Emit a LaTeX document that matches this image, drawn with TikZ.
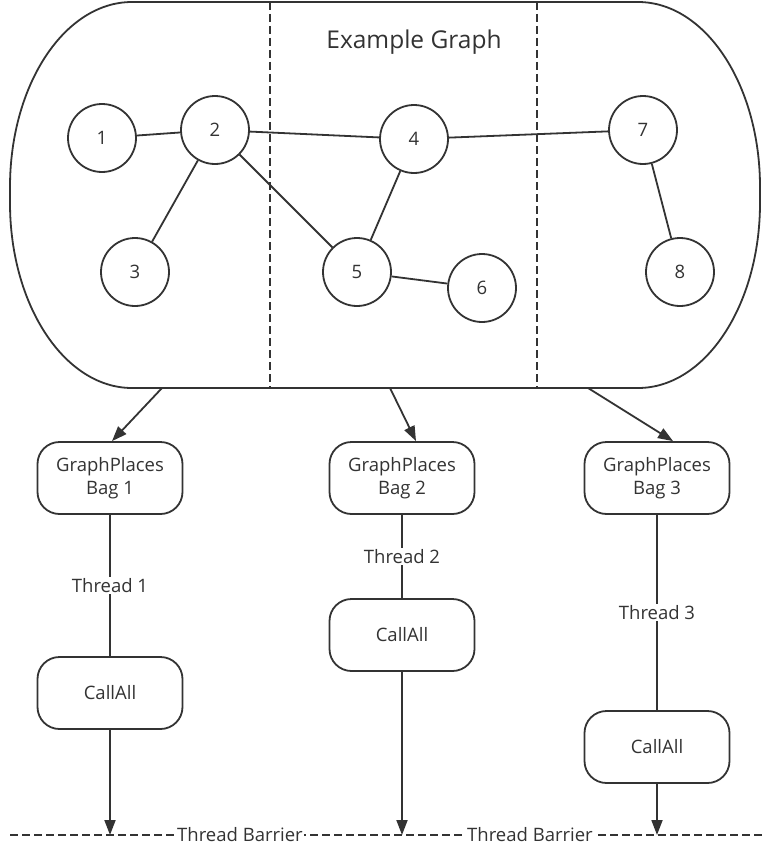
\documentclass[tikz,border=0pt]{standalone}
\usepackage{fontspec}
\setmainfont{Open Sans}
\usetikzlibrary{arrows.meta,calc}
\definecolor{ink}{HTML}{333333}
\begin{document}
\begin{tikzpicture}[x=1pt,y=-1pt,
  every node/.style={text=ink,font=\fontsize{18.5}{23}\selectfont},
  lw/.style={draw=ink,line width=1.8pt},
  vtx/.style={lw,circle,minimum size=68pt,inner sep=0pt},
  box/.style={lw,rectangle,rounded corners=22pt,minimum width=145pt,minimum height=72pt,align=center,inner sep=0pt},
  edge/.style={lw},
  arr/.style={lw,-{Triangle[length=15pt,width=11pt]}},
  dsh/.style={draw=ink,line width=1.5pt,dash pattern=on 8pt off 4pt},
  lbl/.style={fill=white,inner sep=1pt}]
\useasboundingbox (0,0) rectangle (762,851);
\fill[white] (0,0) rectangle (762,851);
% graph container
\draw[lw] (132,2) -- (638,2) arc[start angle=90,end angle=0,x radius=122pt,y radius=185pt]
  -- (760,203) arc[start angle=0,end angle=-90,x radius=122pt,y radius=185pt]
  -- (132,388) arc[start angle=270,end angle=180,x radius=122pt,y radius=185pt]
  -- (10,187) arc[start angle=180,end angle=90,x radius=122pt,y radius=185pt] -- cycle;
\coordinate (d1t) at (270,2); \coordinate (d1b) at (270,388);
\coordinate (d2t) at (537,2); \coordinate (d2b) at (537,388);
\draw[dsh] (d1t) -- (d1b);
\draw[dsh] (d2t) -- (d2b);
\node[font=\fontsize{24.5}{29}\selectfont] (title) at (414,42) {Example Graph};
% vertices
\node[vtx] (n1) at (102,138) {1};
\node[vtx] (n2) at (215,130) {2};
\node[vtx] (n3) at (135,272) {3};
\node[vtx] (n4) at (414,139) {4};
\node[vtx] (n5) at (357,272) {5};
\node[vtx] (n6) at (482,288) {6};
\node[vtx] (n7) at (643,130) {7};
\node[vtx] (n8) at (680,272) {8};
\draw[edge] (n1) -- (n2);
\draw[edge] (n2) -- (n4);
\draw[edge] (n2) -- (n3);
\draw[edge] (n2) -- (n5);
\draw[edge] (n4) -- (n5);
\draw[edge] (n5) -- (n6);
\draw[edge] (n4) -- (n7);
\draw[edge] (n7) -- (n8);
% bags
\node[box] (bag1) at (110,478) {GraphPlaces\\Bag 1};
\node[box] (bag2) at (402,478) {GraphPlaces\\Bag 2};
\node[box] (bag3) at (657,478) {GraphPlaces\\Bag 3};
\coordinate (g1) at (162,388);
\coordinate (g2) at (390,388);
\coordinate (g3) at (588,388);
\draw[arr] (g1) -- ([xshift=2pt]bag1.north);
\draw[arr] (g2) -- ([xshift=14pt]bag2.north);
\draw[arr] (g3) -- ([xshift=16pt]bag3.north);
% callall
\node[box] (c1) at (110,693) {CallAll};
\node[box] (c2) at (402,635) {CallAll};
\node[box] (c3) at (657,747) {CallAll};
\draw[edge] (bag1) -- node[lbl] {Thread 1} (c1);
\draw[edge] (bag2) -- node[lbl] {Thread 2} (c2);
\draw[edge] (bag3) -- node[lbl] {Thread 3} (c3);
% barrier
\coordinate (bl) at (10,835);
\coordinate (br) at (762,835);
\draw[dsh] (bl) -- (br);
\node[lbl] (tb1) at (240,835) {Thread Barrier};
\node[lbl] (tb2) at (530,835) {Thread Barrier};
\coordinate (b1) at (110,835);
\coordinate (b2) at (402,835);
\coordinate (b3) at (657,835);
\draw[arr] (c1) -- (b1);
\draw[arr] (c2) -- (b2);
\draw[arr] (c3) -- (b3);
\end{tikzpicture}
\end{document}
